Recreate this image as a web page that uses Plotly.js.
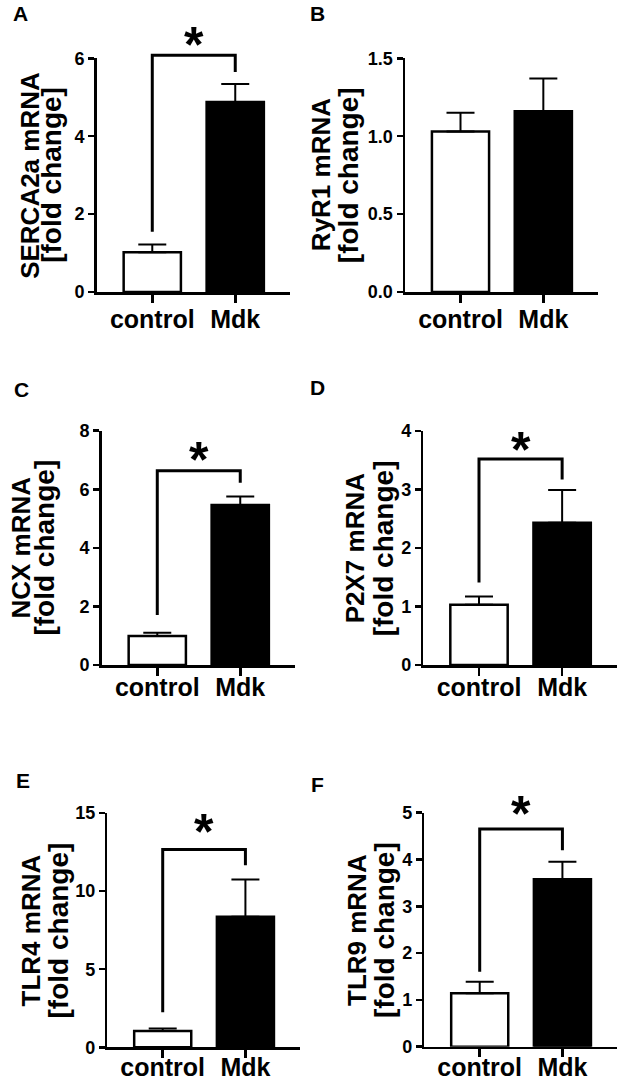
<!DOCTYPE html>
<html>
<head>
<meta charset="utf-8">
<script src="https://cdn.plot.ly/plotly-3.0.1.min.js"></script>
<style>
  html, body { margin: 0; padding: 0; background: #fff; }
  #chart { width: 630px; height: 1089px; }
</style>
</head>
<body>
<div id="chart"></div>
<script>
// values (fold change, mean and upper error bar)
const groups = ['control', 'Mdk'];
const panelLetters = ['A', 'B', 'C', 'D', 'E', 'F'];
const genes = ['SERCA2a', 'RyR1', 'NCX', 'P2X7', 'TLR4', 'TLR9'];
const controlMean = [1.02, 1.03, 0.99, 1.03, 1.04, 1.14];
const controlErr = [0.20, 0.12, 0.11, 0.14, 0.17, 0.25];
const mdkMean = [4.88, 1.16, 5.46, 2.43, 8.35, 3.58];
const mdkErr = [0.46, 0.21, 0.29, 0.56, 2.39, 0.37];
const axisMax = [6, 1.5, 8, 4, 15, 5];
const yTickVals = [
    [0, 2, 4, 6],
    [0, 0.5, 1, 1.5],
    [0, 2, 4, 6, 8],
    [0, 1, 2, 3, 4],
    [0, 5, 10, 15],
    [0, 1, 2, 3, 4, 5]
];
const yTickText = [
    ['0', '2', '4', '6'],
    ['0.0', '0.5', '1.0', '1.5'],
    ['0', '2', '4', '6', '8'],
    ['0', '1', '2', '3', '4'],
    ['0', '5', '10', '15'],
    ['0', '1', '2', '3', '4', '5']
];
// significance bracket: left leg end, top, right leg end, star level (null = no bracket)
const bracketLeft = [1.55, null, 1.71, 1.41, 2.24, 1.60];
const bracketTop = [6.08, null, 6.63, 3.52, 12.66, 4.65];
const bracketRight = [5.65, null, 6.22, 3.17, 11.66, 4.20];
const starLevel = [6.52, null, 7.24, 3.79, 14.21, 5.12];

// panel placement in pixels (axis corner, top tick, title offsets, label standoff, letter spot)
const W = 630, H = 1089;
const panelBox = [
    {left: 96.7, right: 290, zero: 292, top: 58.3, t1: 67, t2: 46, so: -5, lx: 20, ly: 13},
    {left: 405, right: 598, zero: 292, top: 58.3, t1: 84, t2: 57, so: -5, lx: 317, ly: 13},
    {left: 101.7, right: 295, zero: 665, top: 430.7, t1: 81, t2: 57, so: -10, lx: 21, ly: 389},
    {left: 423.3, right: 617, zero: 665, top: 431, t1: 68, t2: 40, so: -10, lx: 317, ly: 388},
    {left: 107.3, right: 300, zero: 1047.3, top: 813, t1: 76, t2: 49, so: -12, lx: 23, ly: 780},
    {left: 424.3, right: 617, zero: 1046.7, top: 812.7, t1: 68, t2: 40, so: -11, lx: 317, ly: 784}
];

const FONT = 'Liberation Sans, Arial, Helvetica, sans-serif';
const xPos = groups.map((g, k) => k);

const traces = [];
const layout = {
    width: W,
    height: H,
    margin: {l: 0, r: 0, t: 0, b: 0},
    paper_bgcolor: '#ffffff',
    plot_bgcolor: 'rgba(0,0,0,0)',
    showlegend: false,
    font: {family: FONT, color: '#000000'},
    annotations: []
};

panelBox.forEach((box, i) => {
    const n = i + 1;
    const xa = n === 1 ? 'x' : 'x' + n;
    const ya = n === 1 ? 'y' : 'y' + n;
    const yExt = 'y' + (n + 6);
    const extTop = box.top - 50;

    traces.push({
        type: 'bar',
        x: xPos,
        y: [controlMean[i], mdkMean[i]],
        xaxis: xa,
        yaxis: ya,
        width: 0.69,
        marker: {
            color: ['#ffffff', '#000000'],
            line: {color: '#000000', width: 2.5}
        },
        error_y: {
            type: 'data',
            symmetric: false,
            array: [controlErr[i], mdkErr[i]],
            arrayminus: [0, 0],
            color: '#000000',
            thickness: 2,
            width: 14
        },
        hoverinfo: 'skip'
    });

    if (bracketTop[i] !== null) {
        traces.push({
            type: 'scatter',
            mode: 'lines',
            x: [xPos[0], xPos[0], xPos[1], xPos[1]],
            y: [bracketLeft[i], bracketTop[i], bracketTop[i], bracketRight[i]],
            xaxis: xa,
            yaxis: yExt,
            line: {color: '#000000', width: 3},
            hoverinfo: 'skip'
        });
        layout.annotations.push({
            xref: xa,
            yref: yExt,
            x: 0.5,
            y: starLevel[i],
            xanchor: 'center',
            yanchor: 'middle',
            text: '*',
            showarrow: false,
            yshift: -7,
            font: {family: FONT, size: 50, weight: 'bold', color: '#000000'}
        });
    }

    layout['xaxis' + (n === 1 ? '' : n)] = {
        domain: [box.left / W, box.right / W],
        anchor: ya,
        range: [-0.67, 1.66],
        tickvals: xPos,
        ticktext: groups,
        showline: true,
        linewidth: 2.5,
        linecolor: '#000000',
        ticks: 'outside',
        ticklen: 8,
        tickwidth: 2.5,
        tickcolor: '#000000',
        ticklabelstandoff: box.so,
        tickfont: {family: FONT, size: 25, weight: 'bold', color: '#000000'},
        showgrid: false,
        zeroline: false,
        fixedrange: true
    };
    layout['yaxis' + (n === 1 ? '' : n)] = {
        domain: [1 - box.zero / H, 1 - box.top / H],
        anchor: xa,
        range: [0, axisMax[i]],
        tickvals: yTickVals[i],
        ticktext: yTickText[i],
        showline: true,
        linewidth: 2.5,
        linecolor: '#000000',
        ticks: 'outside',
        ticklen: 6,
        tickwidth: 2.5,
        tickcolor: '#000000',
        tickfont: {family: FONT, size: 18, weight: 'bold', color: '#000000'},
        showgrid: false,
        zeroline: false,
        fixedrange: true
    };
    // same scale as the visible axis, taller, so the bracket and star are not clipped
    layout['yaxis' + (n + 6)] = {
        domain: [1 - box.zero / H, 1 - extTop / H],
        anchor: xa,
        range: [0, axisMax[i] * (box.zero - extTop) / (box.zero - box.top)],
        visible: false,
        fixedrange: true
    };

    layout.annotations.push({
        xref: xa + ' domain', yref: ya + ' domain',
        x: 0, y: 0.5, xshift: -box.t1,
        xanchor: 'center', yanchor: 'middle',
        text: genes[i] + ' mRNA',
        textangle: -90,
        showarrow: false,
        font: {family: FONT, size: 26, weight: 'bold', color: '#000000'}
    });
    layout.annotations.push({
        xref: xa + ' domain', yref: ya + ' domain',
        x: 0, y: 0.5, xshift: -box.t2,
        xanchor: 'center', yanchor: 'middle',
        text: '[fold change]',
        textangle: -90,
        showarrow: false,
        font: {family: FONT, size: 28, weight: 'bold', color: '#000000'}
    });
    layout.annotations.push({
        xref: 'paper', yref: 'paper',
        x: box.lx / W, y: 1 - box.ly / H,
        xanchor: 'center', yanchor: 'middle',
        text: panelLetters[i],
        showarrow: false,
        font: {family: FONT, size: 21, weight: 'bold', color: '#000000'}
    });
});

Plotly.newPlot('chart', traces, layout, {displayModeBar: false, staticPlot: true});
</script>
</body>
</html>
